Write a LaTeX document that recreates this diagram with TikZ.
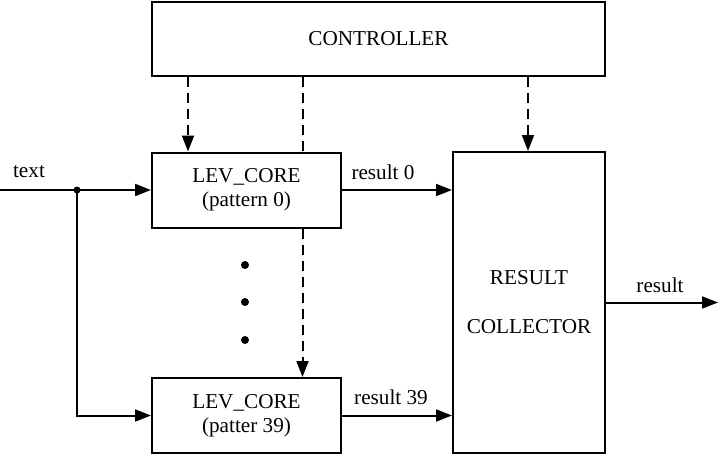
\documentclass[tikz,border=0pt]{standalone}
\usepackage{fontspec}
\setmainfont{Liberation Serif}
\usetikzlibrary{arrows.meta}
\begin{document}
\begin{tikzpicture}[x=1pt,y=-1pt,
  every node/.style={font=\fontsize{21.2}{25}\selectfont},
  blk/.style={draw,line width=2pt,inner sep=0pt},
  conn/.style={line width=2pt,-{Triangle[length=16pt,width=12pt]}},
  ctrl/.style={conn,dash pattern=on 10pt off 6pt},
  lbl/.style={inner sep=0pt}]
\useasboundingbox (0,0) rectangle (718,455);
\node[blk,minimum width=453pt,minimum height=74pt] (ctl) at (378.5,39) {CONTROLLER};
\node[blk,minimum width=189pt,minimum height=75pt,align=center,font=\fontsize{21.2}{24}\selectfont] (c0) at (246.5,190) {LEV\_CORE\\(pattern 0)};
\node[blk,minimum width=189pt,minimum height=75pt,align=center,font=\fontsize{21.2}{24}\selectfont] (c39) at (246.5,415.5) {LEV\_CORE\\(patter 39)};
\node[blk,minimum width=152pt,minimum height=301pt] (rc) at (529,302.5) {};
\node[lbl] at (529,278) {RESULT};
\node[lbl] at (529,327) {COLLECTOR};
\coordinate (in) at (0,190);
\coordinate (j) at (77,190);
\coordinate (jb) at (77,415.5);
\coordinate (out) at (718,302.5);
\draw[line width=2pt] (in) -- (j);
\fill (j) circle (3.5pt);
\draw[conn] (j) -- (c0.west);
\draw[conn] (j) -- (jb) -- (c39.west);
\draw[conn] (c0.east) -- (rc.west |- c0.east);
\draw[conn] (c39.east) -- (rc.west |- c39.east);
\draw[conn] (rc.east |- out) -- (out);
\draw[ctrl] (ctl.south -| 188,0) -- (c0.north -| 188,0);
\draw[ctrl] (ctl.south -| 528,0) -- (rc.north -| 528,0);
\draw[line width=2pt,dash pattern=on 10pt off 6pt] (ctl.south -| 302.5,0) -- (c0.north -| 302.5,0);
\draw[ctrl] (c0.south -| 302.5,0) -- (c39.north -| 302.5,0);
\node[lbl] (t) at (29,172) {text};
\node[lbl] (r0) at (383,172) {result 0};
\node[lbl] (r39) at (391,397) {result 39};
\node[lbl] (r) at (660,285) {result};
\foreach \yy in {265,302,340} \fill (245,\yy) circle (4pt);
\end{tikzpicture}
\end{document}
